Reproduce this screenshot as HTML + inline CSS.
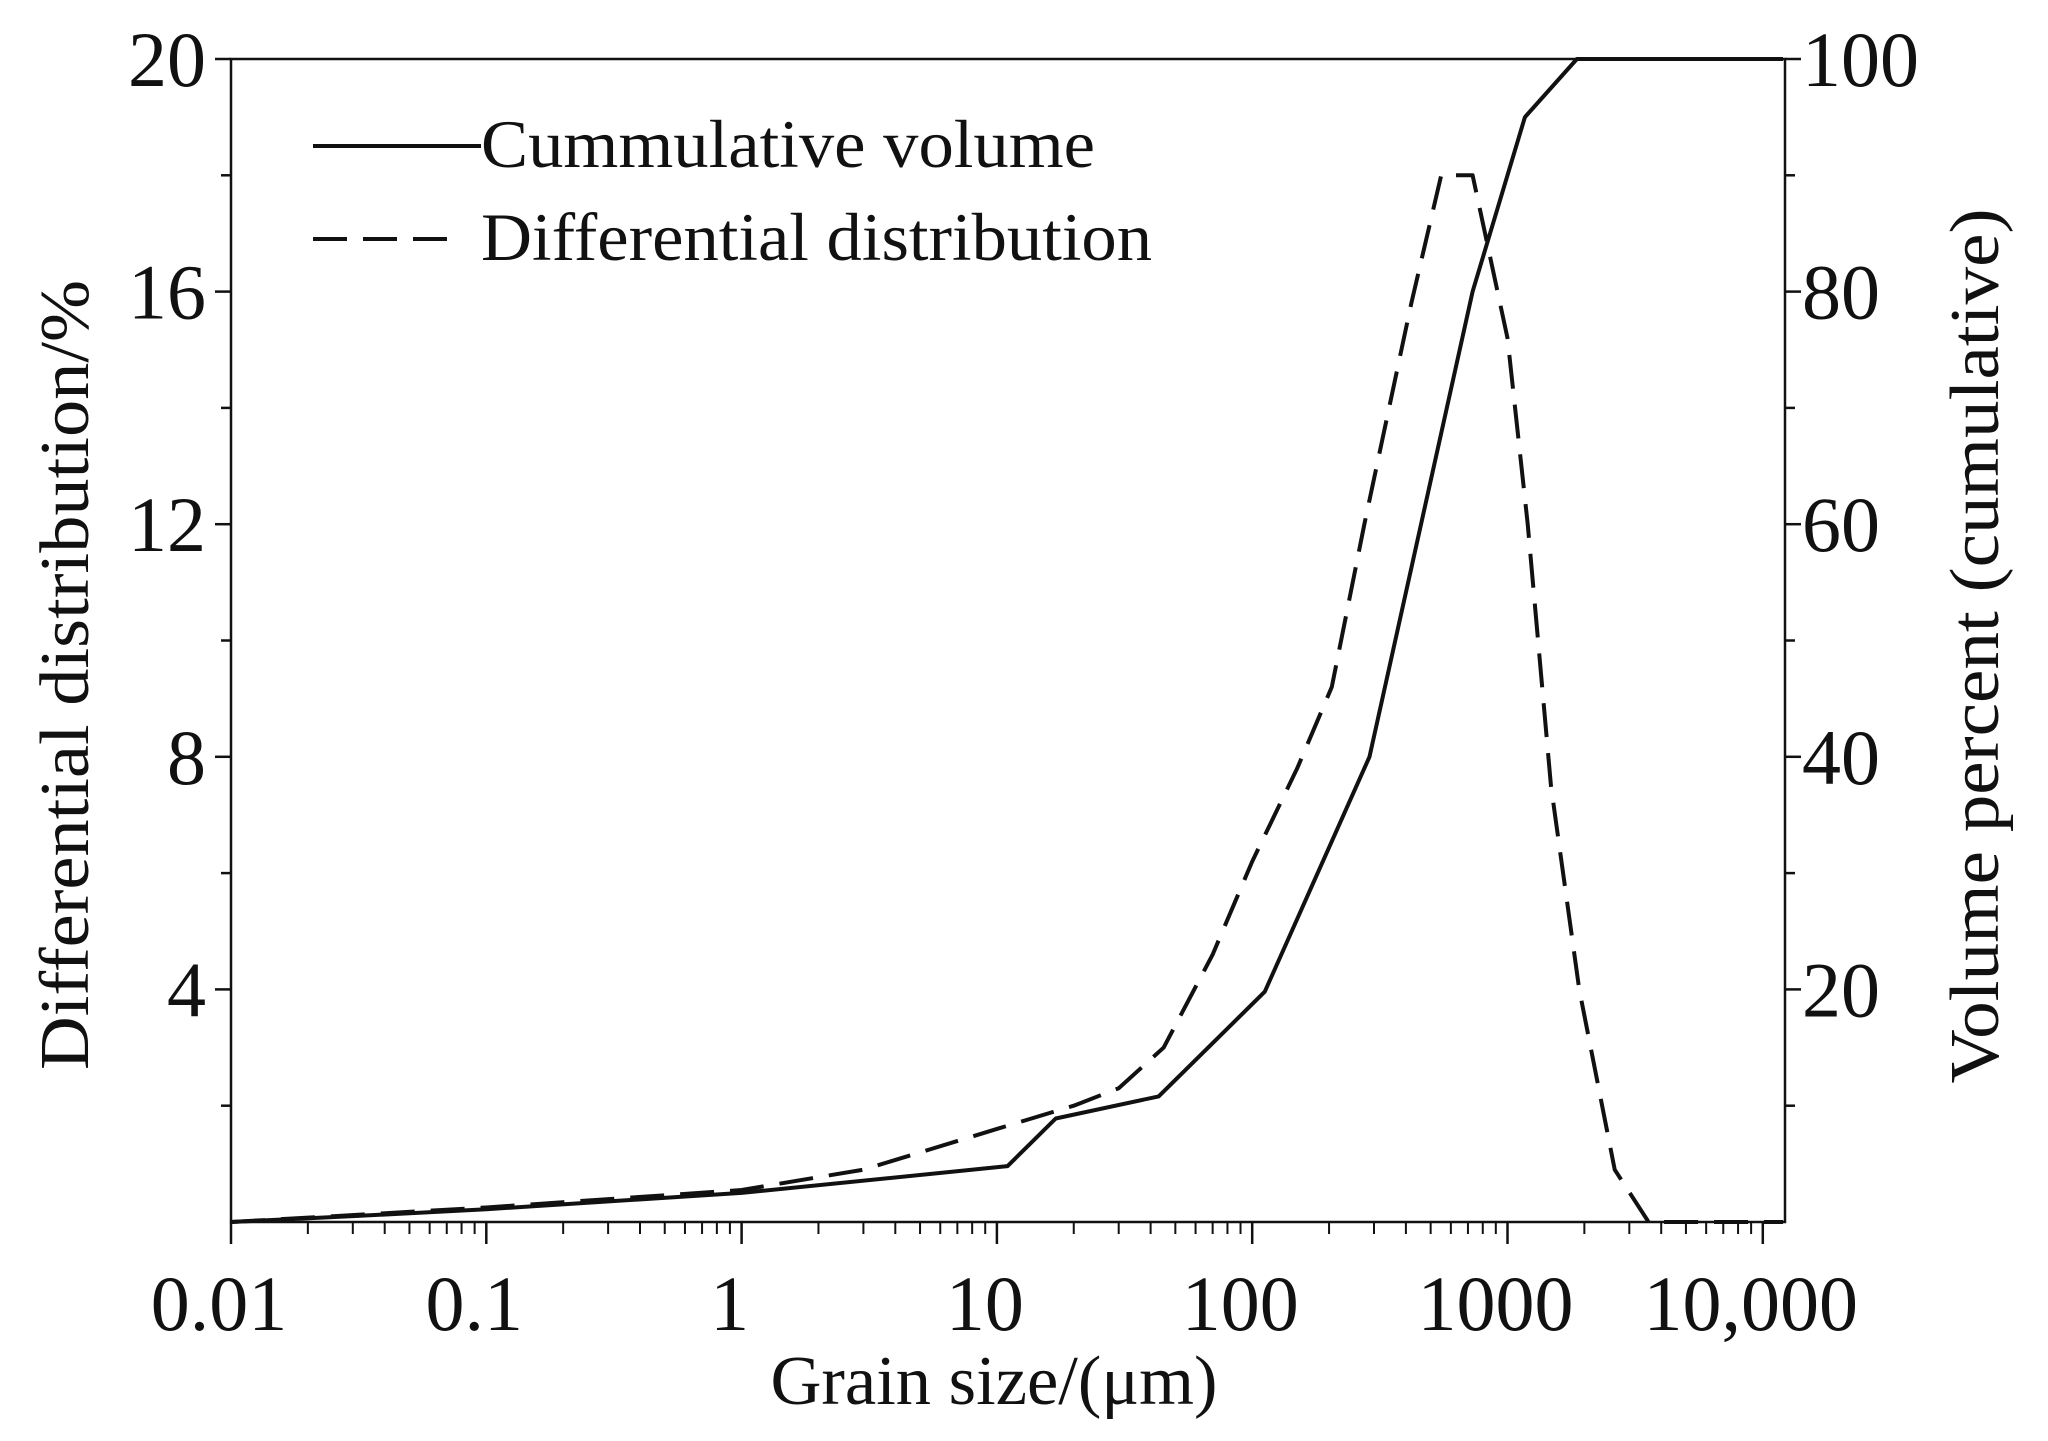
<!DOCTYPE html>
<html><head><meta charset="utf-8"><style>
html,body{margin:0;padding:0;background:#fff}
svg{display:block}
text{font-family:"Liberation Serif",serif;fill:#111}
</style></head><body>
<svg id="chart" width="2048" height="1441" viewBox="0 0 2048 1441" xmlns="http://www.w3.org/2000/svg">
<g id="axes"></g>
<g id="series"></g>
<g>
 <line x1="313" y1="146" x2="481" y2="146" stroke="#111" stroke-width="4"/>
 <text x="481" y="167" font-size="68" textLength="614" lengthAdjust="spacingAndGlyphs">Cummulative volume</text>
 <line x1="313" y1="239" x2="462" y2="239" stroke="#111" stroke-width="4" stroke-dasharray="34,16"/>
 <text x="481" y="260" font-size="68" textLength="671" lengthAdjust="spacingAndGlyphs">Differential distribution</text>
</g>
<text x="994" y="1404" font-size="70" text-anchor="middle" textLength="447" lengthAdjust="spacingAndGlyphs">Grain size/(μm)</text>
<text transform="translate(88,675) rotate(-90)" font-size="70" text-anchor="middle" textLength="790" lengthAdjust="spacingAndGlyphs">Differential distribution/%</text>
<text transform="translate(1998,646) rotate(-90)" font-size="70" text-anchor="middle" textLength="875" lengthAdjust="spacingAndGlyphs">Volume percent (cumulative)</text>
</svg>
<script>
const xTickValues=[0.01,0.1,1,10,100,1000,10000];
const xTickLabels=["0.01","0.1","1","10","100","1000","10,000"];
const leftTickValues=[4,8,12,16,20];
const rightTickValues=[20,40,60,80,100];
const cumX=[0.01,0.03,0.1,1,11,17,43,112,288,730,1170,1870,12000];
const cumY=[0,0.5,1.1,2.5,4.8,8.9,10.8,19.8,40,80,95,100,100];
const difX=[0.01,0.1,1,3,10,20,30,45,70,100,150,205,275,420,550,730,1000,1200,1480,1910,2630,3570,12000];
const difY=[0,0.25,0.55,0.9,1.6,2.0,2.3,3.0,4.6,6.2,7.8,9.2,12,15.8,18,18,15.2,12,7.5,4,0.9,0,0];

const L=231,R=1785,T=59,B=1222,DEC=255.3;
const xs=v=>L+(Math.log10(v)+2)*DEC;
const yl=v=>B-(B-T)*v/20;
const yr=v=>B-(B-T)*v/100;
const NS="http://www.w3.org/2000/svg";
function mk(tag,attrs,parent,txt){const e=document.createElementNS(NS,tag);for(const k in attrs)e.setAttribute(k,attrs[k]);if(txt!==undefined)e.textContent=txt;parent.appendChild(e);return e;}
const ax=document.getElementById('axes');
let e;
e=mk('rect',{x:L,y:T,width:R-L,height:B-T,fill:'none',stroke:'#111','stroke-width':2.5},ax);


xTickValues.forEach((v,i)=>{
 const x=xs(v);
 const t=mk('line',{x1:x,y1:B,x2:x,y2:B+22,stroke:'#111','stroke-width':2.5},ax);
 
 
 const lb=mk('text',{x:x-12,y:1330,'font-size':78,'text-anchor':'middle'},ax,xTickLabels[i]);
 
 
 if(i<xTickValues.length-1){for(let m=2;m<=9;m++){const mv=v*m;if(xs(mv)>R)break;const mx=xs(mv);
  const mt=mk('line',{x1:mx,y1:B,x2:mx,y2:B+12,stroke:'#111','stroke-width':2},ax);
  
  }}
});
for(let v=2;v<=20;v+=2){const y=yl(v);const maj=v%4===0;
 const t=mk('line',{x1:L-(maj?16:10),y1:y,x2:L,y2:y,stroke:'#111','stroke-width':2.5},ax);
 
 }
leftTickValues.forEach(v=>{const lb=mk('text',{x:206,y:yl(v)+27,'font-size':78,'text-anchor':'end'},ax,String(v));
 
 });
for(let v=10;v<=100;v+=10){const y=yr(v);const maj=v%20===0;
 const t=mk('line',{x1:R,y1:y,x2:R+(maj?16:10),y2:y,stroke:'#111','stroke-width':2.5},ax);
 
 }
rightTickValues.forEach(v=>{const lb=mk('text',{x:1802,y:yr(v)+27,'font-size':78,'text-anchor':'start'},ax,String(v));
 
 });
const sg=document.getElementById('series');
const cp=mk('polyline',{points:cumX.map((x,i)=>xs(x)+','+yr(cumY[i])).join(' '),fill:'none',stroke:'#111','stroke-width':4,'stroke-linejoin':'round'},sg);


const dp=mk('polyline',{points:difX.map((x,i)=>xs(x)+','+yl(difY[i])).join(' '),fill:'none',stroke:'#111','stroke-width':4,'stroke-dasharray':'34,16','stroke-linejoin':'round'},sg);


</script>
</body></html>
